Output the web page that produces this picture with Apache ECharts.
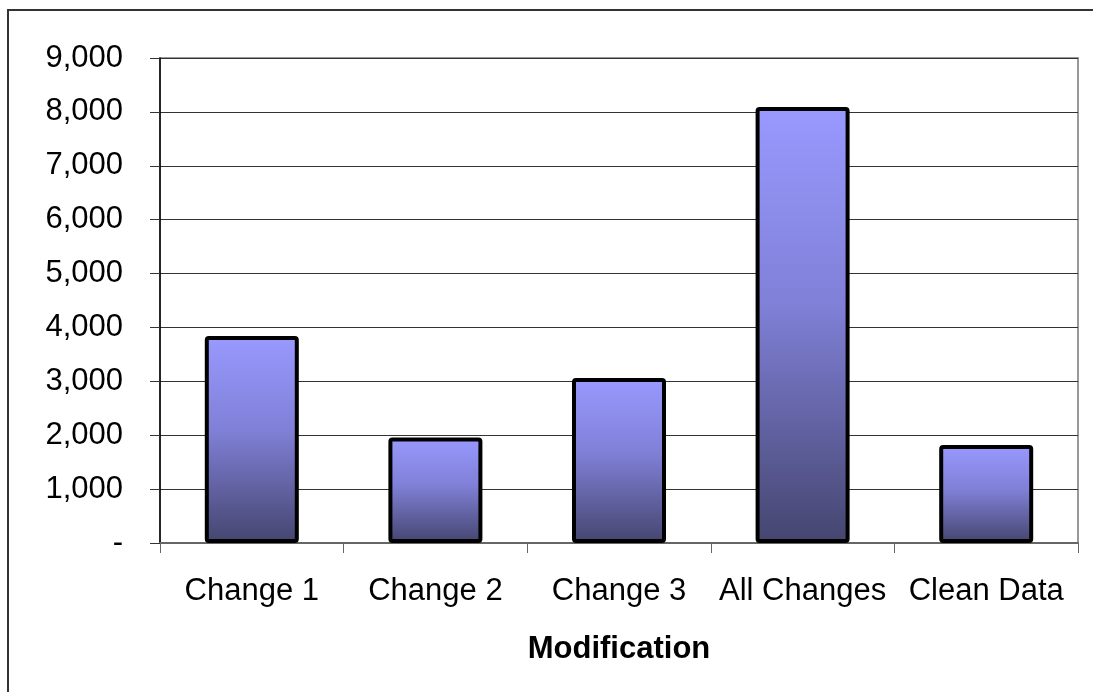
<!DOCTYPE html>
<html>
<head>
<meta charset="utf-8">
<script src="https://cdn.jsdelivr.net/npm/echarts@6/dist/echarts.min.js"></script>
<style>
  html, body { margin: 0; padding: 0; background: #fff; }
  #chart { width: 1093px; height: 692px; }
</style>
</head>
<body>
<div id="chart"></div>
<script>
// Categories and values
const categories = ['Change 1', 'Change 2', 'Change 3', 'All Changes', 'Clean Data'];
const values = [3840, 1960, 3060, 8090, 1820];
const yTicks = [0, 1000, 2000, 3000, 4000, 5000, 6000, 7000, 8000, 9000];
const xAxisTitle = 'Modification';

const FONT = '"Liberation Sans", Arial, sans-serif';
const FS = 31;

function fmt(v) {
  if (v === 0) return '-';
  return String(v).replace(/\B(?=(\d{3})+(?!\d))/g, ',');
}

const chart = echarts.init(document.getElementById('chart'), null, { renderer: 'canvas' });

chart.setOption({
  backgroundColor: '#ffffff',
  animation: false,
  graphic: [{
    type: 'rect',
    shape: { x: 8, y: 10, width: 1200, height: 800 },
    style: { fill: 'none', stroke: '#333', lineWidth: 2 },
    silent: true,
    z: 100
  }],
  grid: {
    left: 160, right: 15, top: 58, bottom: 149,
    show: true, borderColor: '#999', borderWidth: 2, backgroundColor: 'transparent'
  },
  xAxis: {
    type: 'category',
    data: categories,
    boundaryGap: true,
    axisLine: { show: true, lineStyle: { color: '#666', width: 2 } },
    axisTick: { show: true, length: 10, alignWithLabel: false, lineStyle: { color: '#666', width: 1 } },
    axisLabel: { color: '#000', fontFamily: FONT, fontSize: FS, margin: 33, interval: 0 },
    name: xAxisTitle,
    nameLocation: 'middle',
    nameGap: 91,
    nameTextStyle: { color: '#000', fontFamily: FONT, fontSize: FS, fontWeight: 'bold' }
  },
  yAxis: {
    type: 'value',
    min: yTicks[0],
    max: yTicks[yTicks.length - 1],
    interval: 1000,
    axisLine: { show: true, lineStyle: { color: '#000', width: 1.5 } },
    axisTick: { show: true, inside: false, length: 10, lineStyle: { color: '#333', width: 1 } },
    axisLabel: { color: '#000', fontFamily: FONT, fontSize: FS, margin: 37, formatter: fmt },
    splitLine: { show: true, lineStyle: { color: '#333', width: 1 } }
  },
  series: [{
    type: 'bar',
    data: values,
    barWidth: '51.2%',
    itemStyle: {
      color: new echarts.graphic.LinearGradient(0, 0, 0, 1, [
        { offset: 0, color: '#9999ff' },
        { offset: 0.45, color: '#8080d8' },
        { offset: 1, color: '#45456f' }
      ]),
      borderColor: '#000',
      borderWidth: 4,
      borderRadius: 2
    }
  }]
});
</script>
</body>
</html>
